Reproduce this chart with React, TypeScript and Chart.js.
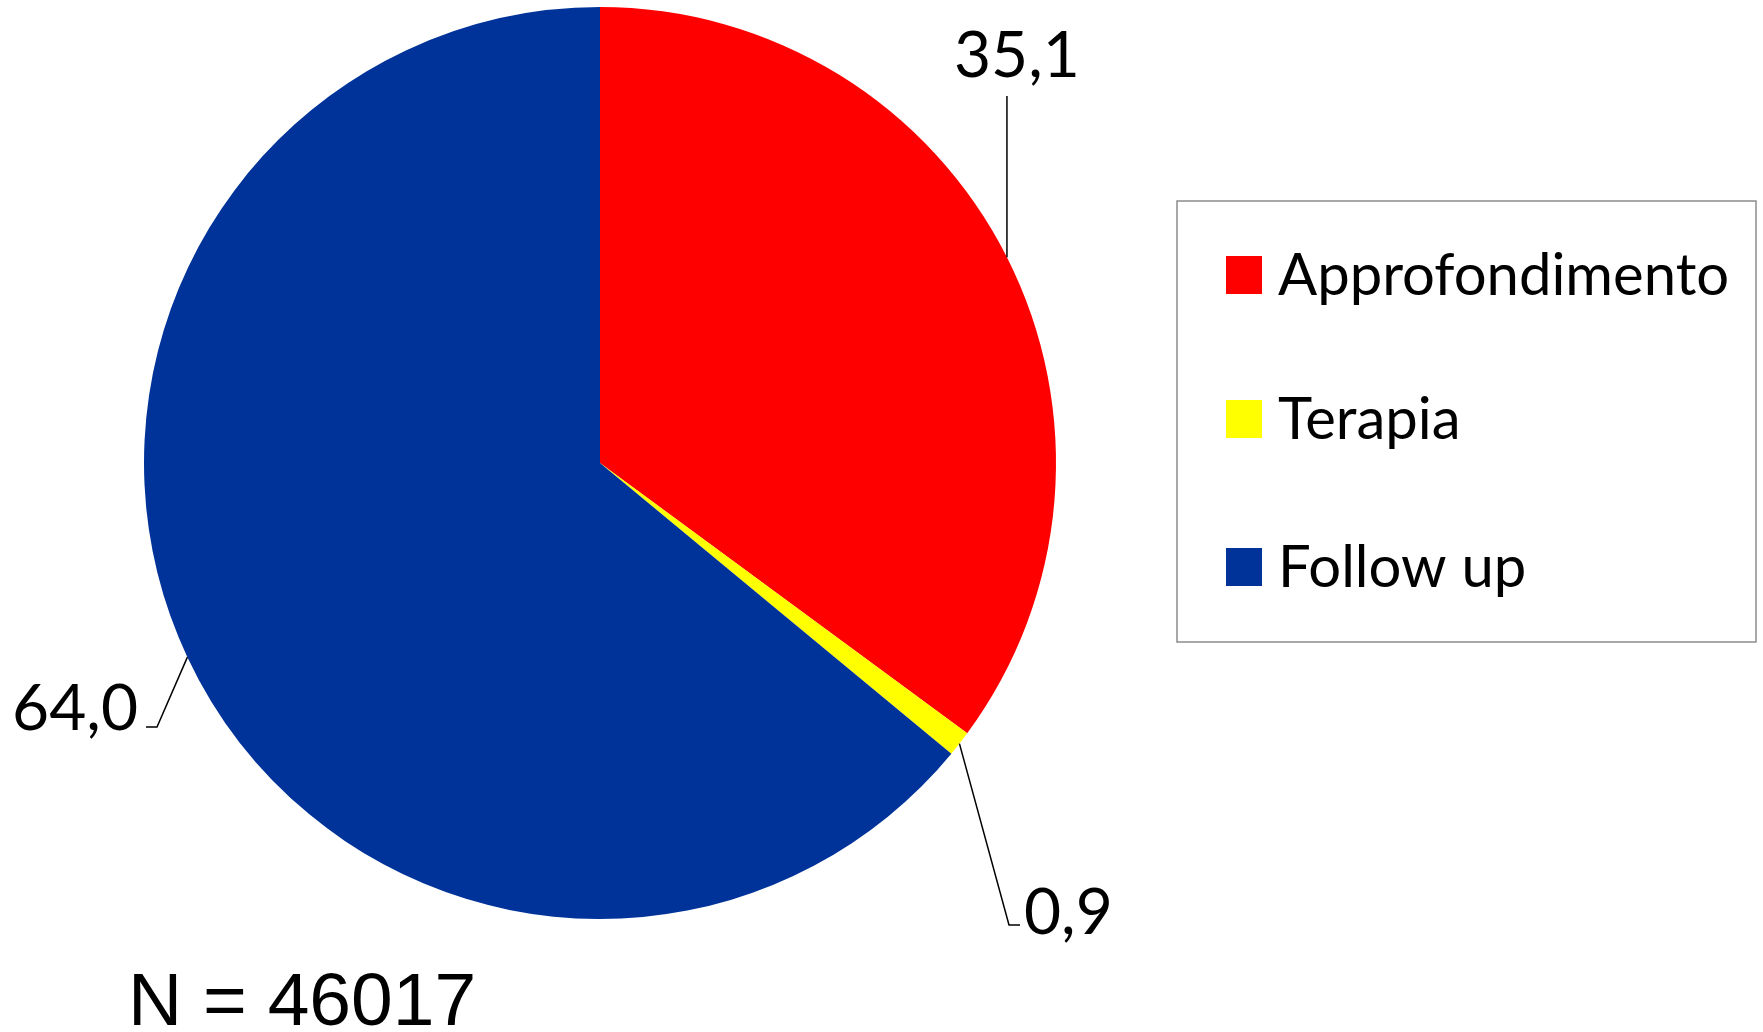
import React, { useEffect, useRef } from "react";
import { Chart, registerables } from "chart.js";

Chart.register(...registerables);

const categories = ["Approfondimento", "Terapia", "Follow up"];
const values = [35.1, 0.9, 64.0];
const valueLabels = ["35,1", "0,9", "64,0"];
const colors = ["#FF0000", "#FFFF00", "#003399"];
const totalLabel = "N = 46017";

const FONT = "Lato, 'Open Sans', sans-serif";

export default function App() {
  const ref = useRef<HTMLCanvasElement | null>(null);

  useEffect(() => {
    document.body.style.margin = "0";
    const canvas = ref.current;
    if (!canvas) return;

    const overlay = {
      id: "overlay",
      afterDraw(chart: any) {
        const ctx = chart.ctx;
        const meta = chart.getDatasetMeta(0);
        ctx.save();
        // leader lines + value labels
        ctx.strokeStyle = "#000";
        ctx.lineWidth = 1.5;
        ctx.fillStyle = "#000";
        ctx.font = `64px ${FONT}`;
        meta.data.forEach((arc: any, i: number) => {
          const p = arc.getProps(["x", "y", "startAngle", "endAngle", "outerRadius"], true);
          const mid = (p.startAngle + p.endAngle) / 2;
          const ax = p.x + Math.cos(mid) * p.outerRadius;
          const ay = p.y + Math.sin(mid) * p.outerRadius;
          ctx.beginPath();
          if (i === 0) {
            ctx.moveTo(ax, ay);
            ctx.lineTo(ax, 96);
            ctx.stroke();
            ctx.textAlign = "center";
            ctx.textBaseline = "alphabetic";
            ctx.fillText(valueLabels[i], ax + 10, 77);
          } else if (i === 1) {
            ctx.moveTo(ax, ay);
            ctx.lineTo(1009, 925);
            ctx.lineTo(1020, 925);
            ctx.stroke();
            ctx.textAlign = "left";
            ctx.textBaseline = "alphabetic";
            ctx.fillText(valueLabels[i], 1024, 934);
          } else {
            ctx.moveTo(ax, ay);
            ctx.lineTo(157, 727);
            ctx.lineTo(146, 727);
            ctx.stroke();
            ctx.textAlign = "right";
            ctx.textBaseline = "alphabetic";
            ctx.fillText(valueLabels[i], 138, 730);
          }
        });

        // legend
        ctx.strokeStyle = "#8c8c8c";
        ctx.lineWidth = 1.5;
        ctx.strokeRect(1177, 201, 579, 441);
        const baselines = [295, 439, 587];
        ctx.font = `58px ${FONT}`;
        ctx.textAlign = "left";
        ctx.textBaseline = "alphabetic";
        categories.forEach((c, i) => {
          ctx.fillStyle = colors[i];
          ctx.fillRect(1226, baselines[i] - 39, 36, 38);
          ctx.fillStyle = "#000";
          ctx.fillText(c, 1278, baselines[i]);
        });

        // N label
        ctx.font = "75px 'Liberation Sans', Arial, sans-serif";
        ctx.fillStyle = "#000";
        ctx.textAlign = "left";
        ctx.fillText(totalLabel, 128, 1025);
        ctx.restore();
      },
    };

    const chart = new Chart(canvas, {
      type: "pie",
      data: {
        labels: categories,
        datasets: [
          {
            data: values,
            backgroundColor: colors,
            borderWidth: 0,
          },
        ],
      },
      options: {
        responsive: false,
        animation: false,
        layout: { padding: { left: 144, top: 7, right: 707, bottom: 113 } },
        plugins: {
          legend: { display: false },
          tooltip: { enabled: false },
        },
      },
      plugins: [overlay],
    });
    return () => chart.destroy();
  }, []);

  return (
    <div style={{ width: 1763, height: 1032, background: "#fff" }}>
      <canvas ref={ref} width={1763} height={1032} style={{ display: "block" }} />
    </div>
  );
}
